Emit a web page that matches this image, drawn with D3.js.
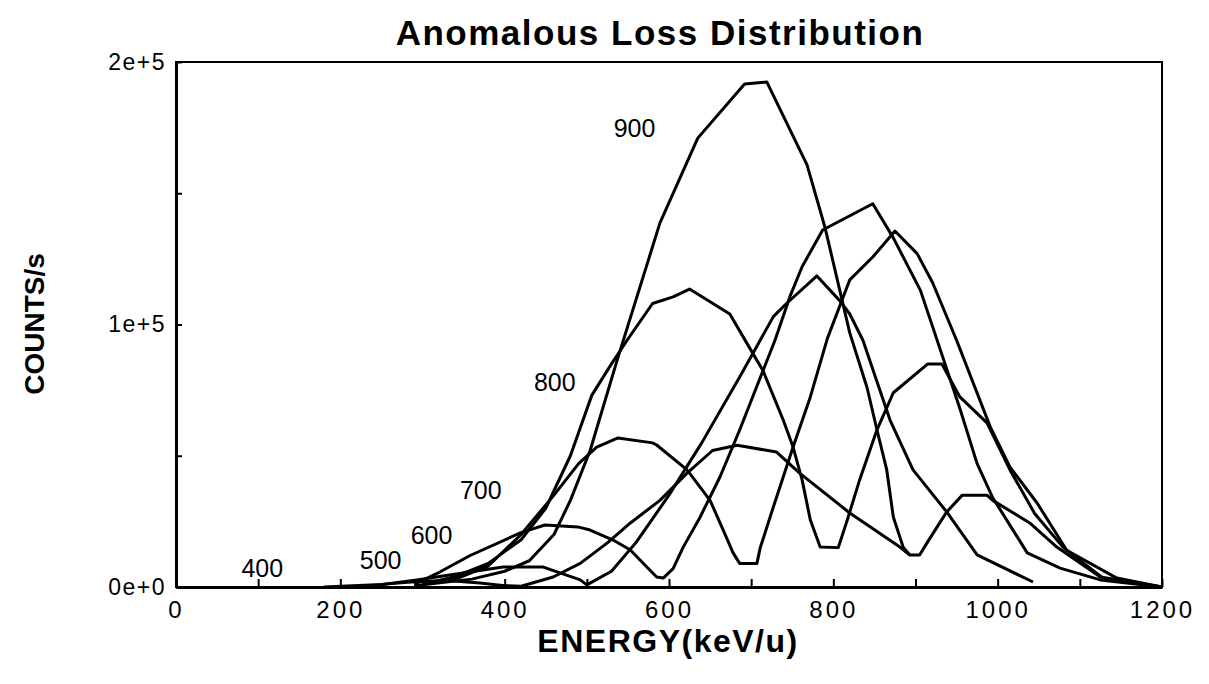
<!DOCTYPE html>
<html>
<head>
<meta charset="utf-8">
<script src="https://cdn.jsdelivr.net/npm/d3@7"></script>
<style>
  body { margin: 0; background: #fff; }
  text { font-family: "Liberation Sans", Arial, sans-serif; fill: #000; }
</style>
</head>
<body>
<div id="chart"></div>
<script>
// curve names (incident energy, keV/u)
const curveNames = ["400", "500", "600", "700", "800", "900"];

// energies (keV/u) and counts (thousands)
const e400 = [180, 250, 290, 330, 370, 400, 420, 459, 492, 525, 553, 589, 622, 653, 683, 731, 759, 820, 881, 893];
const c400 = [0, 1, 2, 2.5, 1.5, 0.5, 0.3, 3.8, 9, 16.8, 24.4, 33, 43.4, 52, 54, 51.4, 43.4, 28.2, 15.2, 12.2];

const e500 = [240, 293, 349, 398, 447, 492, 500, 530, 560, 600, 640, 686, 711, 727, 743, 780, 808, 820, 836, 869, 897, 938, 975, 1043];
const c500 = [0.5, 2.7, 5.3, 7.6, 7.6, 2.7, 0.8, 6, 17, 35, 55, 80, 94, 103, 108, 118.5, 109, 104, 94, 63.6, 44.6, 28.6, 12.2, 1.9];

const e600 = [290, 321, 358, 419, 449, 489, 504, 532, 553, 573, 585, 593, 605, 617, 638, 662, 686, 729, 747, 762, 787, 848, 873, 906, 921, 954, 975, 994, 1036, 1076, 1125, 1200];
const c600 = [1, 5.7, 12, 20.6, 23.6, 22.9, 21.7, 17.9, 14.1, 7.6, 3.8, 3.4, 7, 15, 26.7, 41.9, 59.8, 94, 110.5, 122, 136, 146, 133, 113, 99, 68, 47, 34, 13, 7.2, 2.7, 0];

const e700 = [300, 340, 380, 420, 460, 490, 512, 538, 580, 585, 622, 650, 666, 678, 686, 707, 711, 727, 751, 772, 793, 812, 820, 848, 875, 902, 921, 950, 991, 1015, 1048, 1084, 1145, 1200];
const c700 = [1, 3, 8, 20, 35, 47, 53.3, 56.8, 54.9, 54.1, 44.6, 33, 21.7, 13, 9, 9, 14.9, 30.5, 53.3, 72.4, 94.9, 110.5, 117, 125.7, 135.6, 127, 115.8, 94, 61, 45.7, 32, 14, 3.4, 0];

const e800 = [300, 340, 380, 420, 450, 480, 506, 530, 549, 580, 605, 625, 674, 702, 714, 739, 751, 762, 772, 784, 806, 817, 832, 853, 873, 915, 932, 954, 987, 1015, 1045, 1080, 1130, 1200];
const c800 = [1, 4, 9, 18, 30, 50, 73, 85, 94, 108, 110.5, 113.5, 104, 89, 82.7, 63.6, 53.3, 40.8, 25.5, 15.2, 15, 25.5, 40.8, 59.8, 74, 85, 85, 72.4, 62.5, 44.6, 28, 15, 3, 0];

const e900 = [290, 360, 400, 430, 460, 480, 504, 537, 589, 635, 692, 719, 768, 790, 820, 841, 853, 865, 873, 885, 893, 905, 914, 938, 957, 987, 994, 1039, 1072, 1125, 1200];
const c900 = [0.5, 3, 6, 10, 20, 33, 52, 86.5, 138.7, 171, 191.6, 192.4, 160.8, 136.8, 96.8, 76, 60, 44.6, 26.7, 15.2, 12.2, 12.2, 16.8, 28.6, 35, 35, 33, 24.4, 15.2, 3.8, 0];

const energies = [e400, e500, e600, e700, e800, e900];
const counts = [c400, c500, c600, c700, c800, c900];

// curve labels: energy / count position of each name
const labelE = [105, 249, 311, 371, 461, 558];
const labelC = [6.5, 9.5, 19, 36, 77, 174];

const xTicks = [0, 100, 200, 300, 400, 500, 600, 700, 800, 900, 1000, 1100, 1200];
const yTicks = [0, 50000, 100000, 150000, 200000];
const yTickText = { 0: "0e+0", 100000: "1e+5", 200000: "2e+5" };

const W = 1209, H = 684;
const svg = d3.select("#chart")
  .append("svg")
  .attr("width", W)
  .attr("height", H)
  .attr("viewBox", `0 0 ${W} ${H}`);

svg.append("rect").attr("width", W).attr("height", H).attr("fill", "#fff");

const x = d3.scaleLinear().domain([0, 1200]).range([176, 1162]);
const y = d3.scaleLinear().domain([0, 200000]).range([587, 62]);

// frame
svg.append("rect")
  .attr("x", x(0)).attr("y", y(200000))
  .attr("width", x(1200) - x(0)).attr("height", y(0) - y(200000))
  .attr("fill", "none").attr("stroke", "#000").attr("stroke-width", 2);

// x axis with inward ticks
const xAxis = svg.append("g")
  .attr("transform", `translate(0, ${y(0)})`)
  .call(d3.axisBottom(x)
    .tickValues(xTicks)
    .tickSizeInner(-8)
    .tickSizeOuter(0)
    .tickPadding(14)
    .tickFormat(d => d % 200 === 0 ? d : ""));
xAxis.select(".domain").attr("stroke-width", 3);
xAxis.selectAll(".tick line").attr("stroke-width", 2);
xAxis.selectAll("text")
  .style("font-size", "24px")
  .style("letter-spacing", "3px")
  .attr("fill", "#000");

// y axis with inward ticks
const yAxis = svg.append("g")
  .attr("transform", `translate(${x(0)}, 0)`)
  .call(d3.axisLeft(y)
    .tickValues(yTicks)
    .tickSizeInner(-6)
    .tickSizeOuter(0)
    .tickPadding(10)
    .tickFormat(d => yTickText[d] || ""));
yAxis.select(".domain").attr("stroke-width", 3);
yAxis.selectAll(".tick line").attr("stroke-width", 2);
yAxis.selectAll("text")
  .style("font-size", "23px")
  .style("letter-spacing", "1.5px")
  .attr("fill", "#000");

// curves
const line = d3.line()
  .x(d => x(d[0]))
  .y(d => y(d[1] * 1000));

svg.append("g")
  .selectAll("path")
  .data(curveNames.map((n, i) => energies[i].map((e, j) => [e, counts[i][j]])))
  .join("path")
  .attr("d", line)
  .attr("fill", "none")
  .attr("stroke", "#000")
  .attr("stroke-width", 3)
  .attr("stroke-linejoin", "round");

// curve labels
svg.append("g")
  .selectAll("text")
  .data(curveNames)
  .join("text")
  .text(d => d)
  .attr("x", (d, i) => x(labelE[i]))
  .attr("y", (d, i) => y(labelC[i] * 1000))
  .attr("text-anchor", "middle")
  .attr("dominant-baseline", "middle")
  .style("font-size", "25px");

// titles
svg.append("text")
  .text("Anomalous Loss Distribution")
  .attr("x", 660).attr("y", 45)
  .attr("text-anchor", "middle")
  .style("font-size", "35px")
  .style("letter-spacing", "1.5px")
  .style("font-weight", "bold");

svg.append("text")
  .text("ENERGY(keV/u)")
  .attr("x", 668).attr("y", 652)
  .attr("text-anchor", "middle")
  .style("font-size", "32px")
  .style("letter-spacing", "1.5px")
  .style("font-weight", "bold");

svg.append("text")
  .text("COUNTS/s")
  .attr("transform", "translate(44, 324) rotate(-90)")
  .attr("text-anchor", "middle")
  .style("font-size", "28px")
  .style("font-weight", "bold");
</script>
</body>
</html>
